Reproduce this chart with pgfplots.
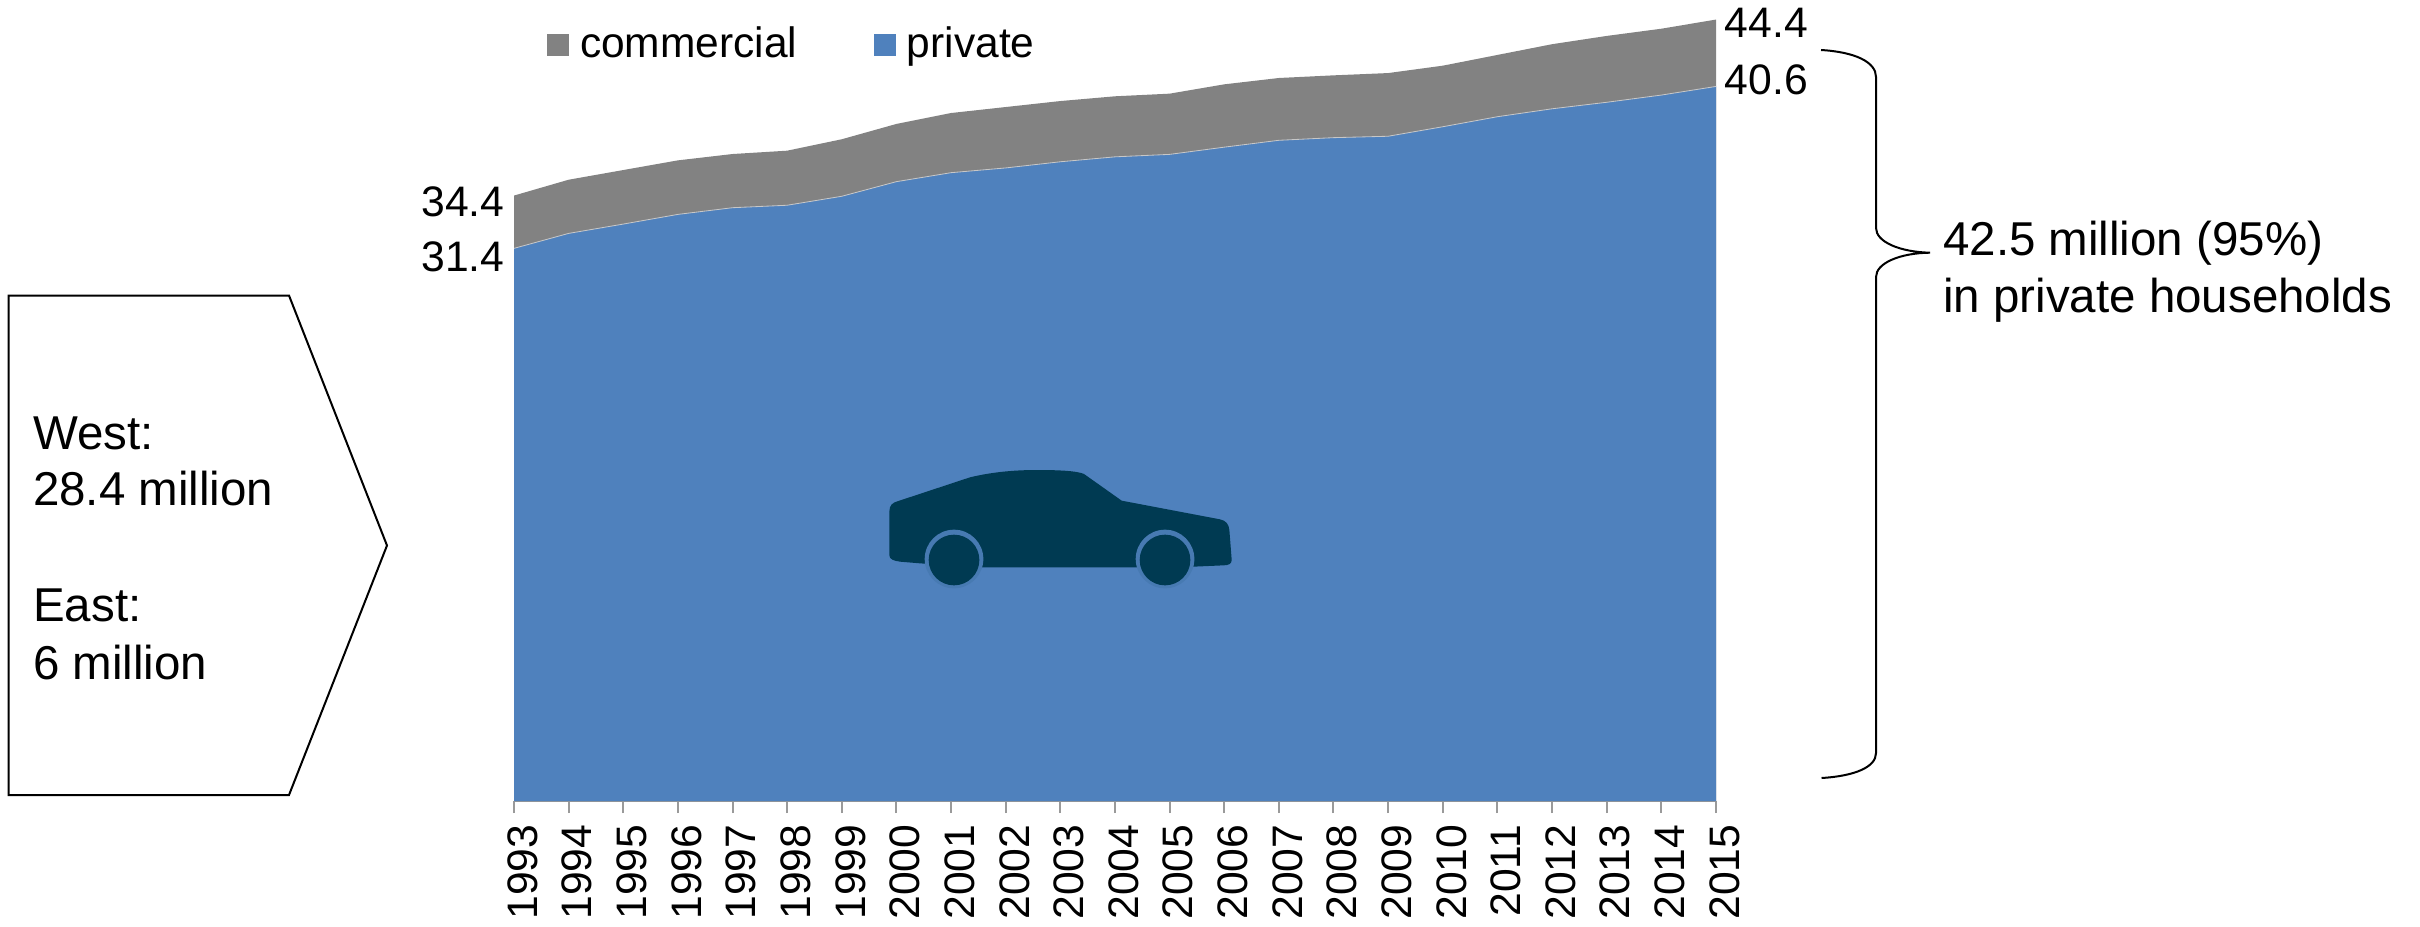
\documentclass[border=0pt]{standalone}
\usepackage{fontspec}
\setmainfont{Liberation Sans}
\usepackage{pgfplots}
\usepackage{pgfplotstable}
\pgfplotsset{compat=1.18}
\definecolor{areagrey}{HTML}{828282}
\definecolor{areablue}{HTML}{4F81BD}
\definecolor{axisgrey}{HTML}{9A9A9A}
\definecolor{cardark}{HTML}{003A52}

% vehicles in millions, total and private
\pgfplotstableread{
year total private
1993 34.4 31.4
1994 35.3 32.25
1995 35.85 32.78
1996 36.4 33.33
1997 36.76 33.71
1998 36.95 33.85
1999 37.6 34.36
2000 38.47 35.19
2001 39.09 35.7
2002 39.43 35.97
2003 39.77 36.32
2004 40.04 36.6
2005 40.19 36.74
2006 40.72 37.15
2007 41.08 37.54
2008 41.23 37.69
2009 41.36 37.77
2010 41.78 38.31
2011 42.39 38.88
2012 43.0 39.33
2013 43.47 39.7
2014 43.88 40.11
2015 44.4 40.6
}\vehicles

\begin{document}
\begin{tikzpicture}
% 1 px of the reference = 0.3pt
\useasboundingbox (0,-278.1pt) rectangle (726pt,0);
\begin{axis}[
    at={(154.2pt,-240.3pt)},
    anchor=south west,
    scale only axis,
    width=360.6pt,
    height=240.24pt,
    xmin=1993, xmax=2015,
    ymin=0, ymax=45.5,
    axis x line*=bottom,
    axis y line=none,
    axis line style={axisgrey, line width=0.6pt, -},
    xtick={1993,1994,...,2015},
    xticklabel style={rotate=90, anchor=east, font=\fontsize{12.8}{15}\selectfont,
        /pgf/number format/1000 sep={}, /pgf/number format/assume math mode=true},
    x tick label style={yshift=-2.6pt},
    tick align=outside,
    major tick length=3.6pt,
    tick style={axisgrey, line width=0.6pt},
    legend columns=2,
    legend style={
        at={(rel axis cs:0.0275,0.9445)}, anchor=west,
        draw=none, fill=none,
        font=\fontsize{12.75}{15}\selectfont,
        inner sep=0pt, outer sep=0pt,
        nodes={inner sep=0pt},
        /tikz/every even column/.append style={column sep=23pt},
    },
    legend image code/.code={
        \path[#1] (0,-3.3pt) rectangle (6.6pt,3.3pt);
    },
]
\addplot[fill=areagrey, draw=none] table[x=year, y=total] {\vehicles} \closedcycle;
\addlegendentry{\hspace{3.3pt}commercial}
\addplot[fill=areablue, draw=none] table[x=year, y=private] {\vehicles} \closedcycle;
\addlegendentry{\hspace{3.3pt}private}
\addplot[forget plot, draw=areagrey!45!white, line width=0.25pt] table[x=year, y=private] {\vehicles};
\end{axis}

\begin{scope}[x=0.3pt, y=-0.3pt]
  \tikzset{lab/.style={font=\fontsize{12.8}{15}\selectfont, inner sep=0pt},
           big/.style={font=\fontsize{14.25}{17.25}\selectfont, inner sep=0pt, anchor=base west}}
  % end labels
  \node[lab, anchor=east] at (505,202) {34.4};
  \node[lab, anchor=east] at (505,257) {31.4};
  \node[lab, anchor=west] at (1724,23) {44.4};
  \node[lab, anchor=west] at (1724,80) {40.6};

  % west / east box
  \draw[black, line width=0.6pt] (8.5,295.5) -- (289,295.5) -- (387,545.5) -- (289,795) -- (8.5,795) -- cycle;
  \node[big] at (32.5,449) {West:};
  \node[big] at (32.5,505.5) {28.4 million};
  \node[big] at (32.5,621.5) {East:};
  \node[big] at (32.5,679) {6 million};

  % brace
  \draw[black, line width=0.6pt] (1821,50) .. controls (1855,52) and (1876,62) .. (1876,77)
     -- (1876,228) .. controls (1876,242) and (1900,252) .. (1930,252.7)
     .. controls (1900,253) and (1876,263) .. (1876,277)
     -- (1876,753) .. controls (1876,767) and (1855,776) .. (1821.5,778);
  \node[big] at (1942.5,255) {42.5 million (95\%)};
  \node[big] at (1942.5,312.5) {in private households};

  % car icon, outline taken in 3x crop coordinates
  \begin{scope}[shift={(860,460)}, x=0.1pt, y=-0.1pt]
    \fill[cardark] (88,285) -- (88,155) .. controls (88,135) and (98,128) .. (112,124)
       -- (330,52) .. controls (400,35) and (470,30) .. (530,30)
       .. controls (590,30) and (650,32) .. (672,42)
       -- (785,122) -- (1080,178) .. controls (1098,182) and (1106,192) .. (1108,210)
       -- (1115,300) .. controls (1115,312) and (1105,316) .. (1090,316)
       -- (1000,320) -- (820,322) -- (370,322) -- (180,310) -- (120,305)
       .. controls (100,302) and (88,298) .. (88,285) -- cycle;
    \fill[areablue!90!cardark] (282,297) circle[radius=88];
    \fill[areablue!90!cardark] (915,297) circle[radius=88];
    \fill[cardark] (282,300) circle[radius=76];
    \fill[cardark] (915,300) circle[radius=76];
  \end{scope}
\end{scope}
\end{tikzpicture}
\end{document}
